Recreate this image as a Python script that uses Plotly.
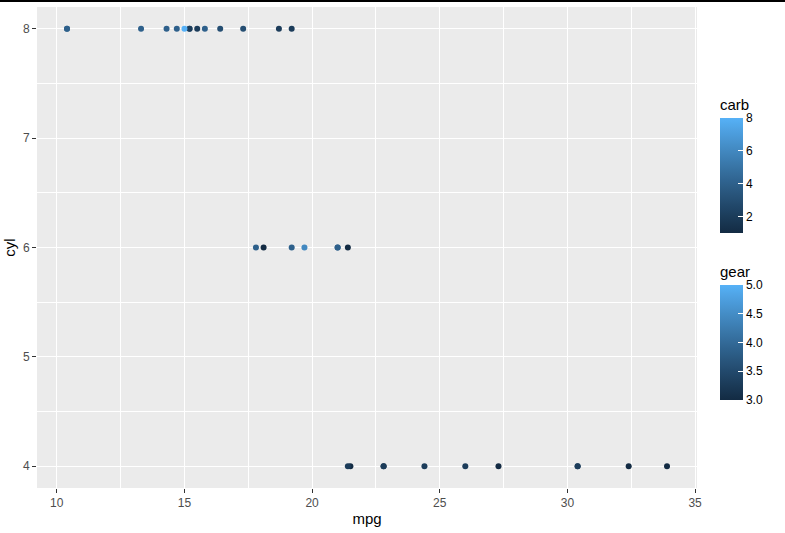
import plotly.graph_objects as go

# mtcars (row order preserved for overplotting)
mpg = [21.0, 21.0, 22.8, 21.4, 18.7, 18.1, 14.3, 24.4, 22.8, 19.2, 17.8, 16.4, 17.3, 15.2,
       10.4, 10.4, 14.7, 32.4, 30.4, 33.9, 21.5, 15.5, 15.2, 13.3, 19.2, 27.3, 26.0, 30.4,
       15.8, 19.7, 15.0, 21.4]
cyl = [6, 6, 4, 6, 8, 6, 8, 4, 4, 6, 6, 8, 8, 8, 8, 8, 8, 4, 4, 4, 4, 8, 8, 8, 8, 4, 4, 4,
       8, 6, 8, 4]
carb = [4, 4, 1, 1, 2, 1, 4, 2, 2, 4, 4, 3, 3, 3, 4, 4, 4, 1, 2, 1, 1, 2, 2, 4, 2, 1, 2, 2,
        4, 6, 8, 2]
gear = [4, 4, 4, 3, 3, 3, 3, 4, 4, 4, 4, 3, 3, 3, 3, 3, 3, 4, 4, 4, 3, 3, 3, 3, 3, 4, 5, 5,
        5, 5, 5, 4]

x_ticks = [10, 15, 20, 25, 30, 35]
y_ticks = [4, 5, 6, 7, 8]
carb_ticks = [2, 4, 6, 8]
gear_ticks = [3.0, 3.5, 4.0, 4.5, 5.0]
gear_ticktext = ["3.0", "3.5", "4.0", "4.5", "5.0"]


# ggplot2 default gradient (#132B43 -> #56B1F7) interpolated in Lab space
def _hex_to_lab(h):
    r, g, b = [int(h[i:i + 2], 16) / 255 for i in (1, 3, 5)]
    def lin(c):
        return c / 12.92 if c <= 0.04045 else ((c + 0.055) / 1.055) ** 2.4
    r, g, b = lin(r), lin(g), lin(b)
    X = (0.4124 * r + 0.3576 * g + 0.1805 * b) / 0.95047
    Y = (0.2126 * r + 0.7152 * g + 0.0722 * b) / 1.0
    Z = (0.0193 * r + 0.1192 * g + 0.9505 * b) / 1.08883
    def f(t):
        return t ** (1 / 3) if t > 0.008856 else 7.787 * t + 16 / 116
    fx, fy, fz = f(X), f(Y), f(Z)
    return (116 * fy - 16, 500 * (fx - fy), 200 * (fy - fz))


def _lab_to_hex(L, a, b):
    fy = (L + 16) / 116
    fx = fy + a / 500
    fz = fy - b / 200
    def finv(t):
        return t ** 3 if t ** 3 > 0.008856 else (t - 16 / 116) / 7.787
    X, Y, Z = finv(fx) * 0.95047, finv(fy), finv(fz) * 1.08883
    r = 3.2406 * X - 1.5372 * Y - 0.4986 * Z
    g = -0.9689 * X + 1.8758 * Y + 0.0415 * Z
    bb = 0.0557 * X - 0.2040 * Y + 1.0570 * Z
    def gam(c):
        c = max(0.0, min(1.0, c))
        return 12.92 * c if c <= 0.0031308 else 1.055 * c ** (1 / 2.4) - 0.055
    return "#%02x%02x%02x" % tuple(int(round(gam(c) * 255)) for c in (r, g, bb))


lo, hi = _hex_to_lab("#132B43"), _hex_to_lab("#56B1F7")
N = 20
cscale = []
for i in range(N + 1):
    t = i / N
    cscale.append([t, _lab_to_hex(*[lo[k] + (hi[k] - lo[k]) * t for k in range(3)])])

W, H = 785, 533
ml, mr, mt, mb = 37, 88, 7, 45
pw, ph = W - ml - mr, H - mt - mb


def px_x(px):
    return (px - ml) / pw


def px_y(py):
    return (H - mb - py) / ph


fig = go.Figure()
fig.add_trace(go.Scatter(
    x=mpg, y=cyl, mode="markers",
    marker=dict(size=6, color=carb, cmin=1, cmax=8, colorscale=cscale,
                showscale=True,
                colorbar=dict(
                    x=px_x(720), xanchor="left", xpad=0,
                    y=px_y(118), yanchor="top", ypad=0,
                    len=115, lenmode="pixels", thickness=23,
                    outlinewidth=0, tickvals=carb_ticks,
                    ticks="inside", ticklen=5, tickcolor="white", tickwidth=1,
                    tickfont=dict(family="Liberation Sans, Arial", size=12, color="black"),
                )),
    showlegend=False, hoverinfo="x+y",
))
fig.add_trace(go.Scatter(
    x=[None, None], y=[None, None], mode="markers",
    marker=dict(size=6, color=[3, 5], cmin=3, cmax=5, colorscale=cscale,
                showscale=True,
                colorbar=dict(
                    x=px_x(720), xanchor="left", xpad=0,
                    y=px_y(285), yanchor="top", ypad=0,
                    len=115, lenmode="pixels", thickness=23,
                    outlinewidth=0, tickvals=gear_ticks, ticktext=gear_ticktext,
                    ticks="inside", ticklen=5, tickcolor="white", tickwidth=1,
                    tickfont=dict(family="Liberation Sans, Arial", size=12, color="black"),
                )),
    showlegend=False, hoverinfo="skip",
))

axis_font = dict(family="Liberation Sans, Arial", size=12, color="#4D4D4D")
title_font = dict(family="Liberation Sans, Arial", size=15, color="black")

fig.update_layout(
    width=W, height=H,
    margin=dict(l=ml, r=mr, t=mt, b=mb, autoexpand=False),
    paper_bgcolor="white", plot_bgcolor="#EBEBEB",
    font=dict(family="Liberation Sans, Arial"),
    xaxis=dict(
        range=[9.225, 35.075], tickvals=x_ticks, tickfont=axis_font,
        showgrid=True, gridcolor="white", gridwidth=1.1, zeroline=False,
        ticks="outside", ticklen=4, tickcolor="#333333", tickwidth=1,
        minor=dict(tickvals=[12.5, 17.5, 22.5, 27.5, 32.5], showgrid=True,
                   gridcolor="white", gridwidth=0.5, ticks=""),
        title=dict(text="mpg", font=title_font, standoff=4),
        automargin=False, showline=False,
    ),
    yaxis=dict(
        range=[3.8, 8.2], tickvals=y_ticks, tickfont=axis_font,
        showgrid=True, gridcolor="white", gridwidth=1.1, zeroline=False,
        ticks="outside", ticklen=4, tickcolor="#333333", tickwidth=1,
        minor=dict(tickvals=[4.5, 5.5, 6.5, 7.5], showgrid=True,
                   gridcolor="white", gridwidth=0.5, ticks=""),
        title=dict(text="cyl", font=title_font, standoff=3),
        automargin=False, showline=False,
    ),
    annotations=[
        dict(text="carb", x=px_x(718), y=px_y(115), xref="paper", yref="paper",
             xanchor="left", yanchor="bottom", showarrow=False,
             font=dict(family="Liberation Sans, Arial", size=15, color="black")),
        dict(text="gear", x=px_x(718), y=px_y(282), xref="paper", yref="paper",
             xanchor="left", yanchor="bottom", showarrow=False,
             font=dict(family="Liberation Sans, Arial", size=15, color="black")),
    ],
    shapes=[
        dict(type="line", xref="paper", yref="paper",
             x0=px_x(0), x1=px_x(W), y0=px_y(1), y1=px_y(1),
             line=dict(color="black", width=2)),
    ],
)

fig.write_html("out.html", config={"displayModeBar": False},
               post_script="document.body.style.margin='0';document.body.style.overflow='hidden';")
